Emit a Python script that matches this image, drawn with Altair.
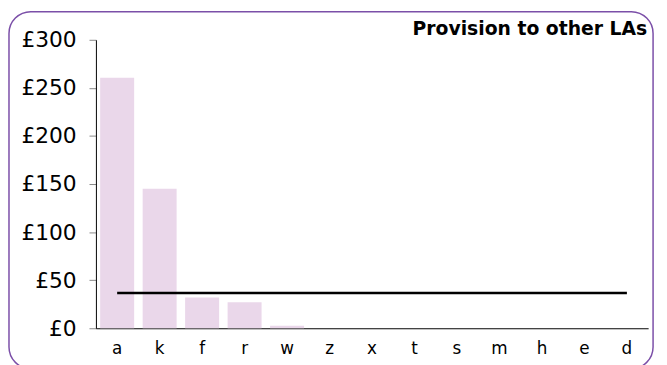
import altair as alt
import pandas as pd

categories = ["a", "k", "f", "r", "w", "z", "x", "t", "s", "m", "h", "e", "d"]
values = [260.5, 145, 32, 27, 2.7, 0, 0, 0, 0, 0, 0, 0, 0]
average = [36.6] * 13
title_text = "Provision to other LAs"

df = pd.DataFrame({"cat": categories, "val": values, "avg": average})

x_enc = alt.X("cat:N", sort=categories, title=None,
              scale=alt.Scale(paddingInner=0.2, paddingOuter=0.1),
              axis=alt.Axis(labelAngle=0, ticks=False, domainColor="black",
                            labelFontSize=17, labelPadding=13, labelColor="#000",
                            labelFont="DejaVu Sans"))

bars = alt.Chart(df).mark_bar(color="#ead7ea").encode(
    x=x_enc,
    y=alt.Y("val:Q", title=None,
            scale=alt.Scale(domain=[0, 300], nice=False),
            axis=alt.Axis(values=[0, 50, 100, 150, 200, 250, 300],
                          labelExpr="'£' + datum.value", grid=False,
                          domainColor="black", tickColor="#888", tickSize=7,
                          labelFontSize=22, labelPadding=13, labelColor="#000",
                          labelFont="DejaVu Sans")),
)

line = alt.Chart(df).mark_line(color="black", strokeWidth=2.5).encode(
    x=alt.X("cat:N", sort=categories),
    y="avg:Q",
)

title = alt.Chart(pd.DataFrame({"t": [title_text]})).mark_text(
    align="right", baseline="alphabetic", fontSize=19, fontWeight="bold",
    font="DejaVu Sans", color="#000"
).encode(text="t:N", x=alt.value(558), y=alt.value(-4.5))

frame = alt.Chart(df.head(1)).mark_rect(
    fill=None, stroke="#7b4fa8", strokeWidth=1.5, cornerRadius=22
).encode(
    x=alt.value(-88), x2=alt.value(564),
    y=alt.value(-28.5), y2=alt.value(333),
)

chart = alt.layer(bars, line, title, frame).properties(
    width=559, height=292,
    autosize=alt.AutoSizeParams(type="none"),
    padding={"left": 89, "top": 30, "right": 11, "bottom": 35},
).configure_view(stroke=None)

chart.save("out.html", embed_options={"renderer": "svg", "actions": False})
